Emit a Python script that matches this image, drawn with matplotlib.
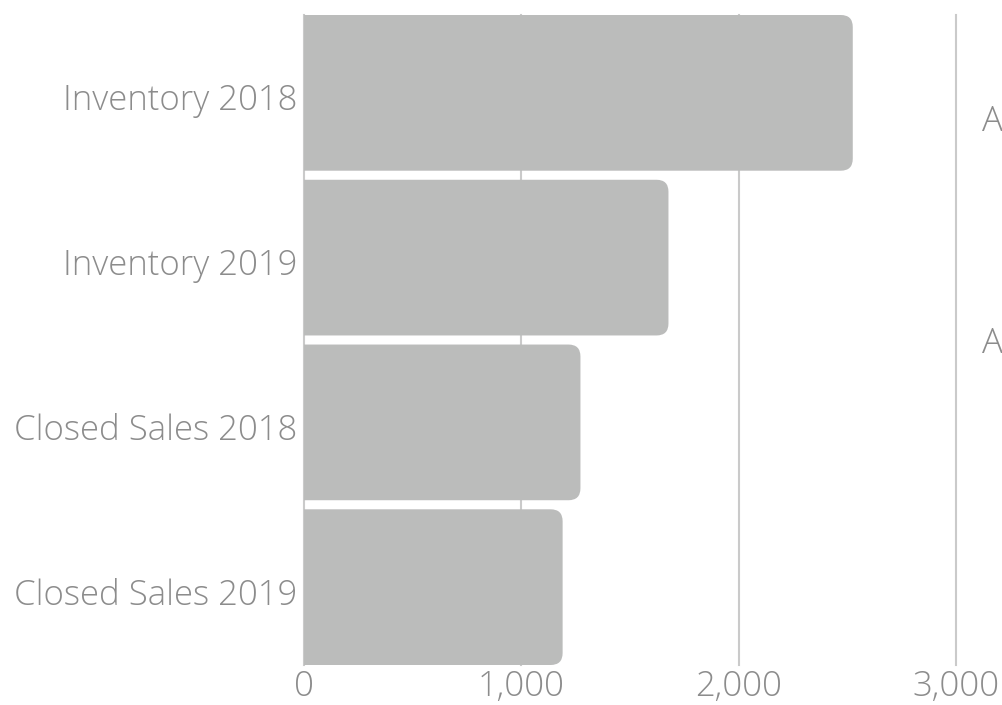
import matplotlib.pyplot as plt
from matplotlib.patches import FancyBboxPatch
from matplotlib.ticker import FuncFormatter
from matplotlib.transforms import ScaledTranslation

categorias = ["Inventory 2018", "Inventory 2019", "Closed Sales 2018", "Closed Sales 2019"]
valores = [2525, 1677, 1272, 1190]
ticks_x = [0, 1000, 2000, 3000]
rotulos_extra = ["A", "A"]

cor_barra = "#bbbcbb"
cor_texto = "#8c8c8c"
cor_grade = "#cacaca"

plt.rcParams['font.family'] = ['Open Sans', 'DejaVu Sans']

fig = plt.figure(figsize=(10.03, 7.05), dpi=100)
ax = fig.add_axes([304 / 1003, 40 / 705, 652 / 1003, 650 / 705])

h = 0.945
pos = list(range(len(categorias)))
barras = ax.barh(pos, valores, height=h, color=cor_barra)
ax.set_xlim(0, 3000)
ax.set_ylim(len(categorias) - 1 + h / 2, -h / 2)

# cantos arredondados so do lado direito (o lado esquerdo fica cortado pelo eixo)
px_x = ax.bbox.width / 3000
px_y = ax.bbox.height / (len(categorias) - 1 + h)
raio_px = 12
raio_x = raio_px / px_x
asp = (raio_px / px_y) / raio_x
for b in barras:
    x0, y0 = b.get_x(), b.get_y()
    w, hh = b.get_width(), b.get_height()
    p = FancyBboxPatch((x0 - 2 * raio_x, y0), w + 2 * raio_x, hh,
                       boxstyle=f"round,pad=0,rounding_size={raio_x}",
                       mutation_aspect=asp, facecolor=cor_barra, edgecolor='none',
                       zorder=2)
    p.set_clip_path(ax.patch)
    ax.add_patch(p)
    b.remove()

ax.set_xticks(ticks_x)
ax.xaxis.set_major_formatter(FuncFormatter(lambda v, _: f"{int(v):,}"))
ax.set_yticks(pos)
ax.set_yticklabels(categorias)
ax.grid(axis='x', color=cor_grade, linewidth=1.5)
for l in ax.get_xgridlines():
    l.set_clip_on(False)
ax.set_axisbelow(True)
for s in ax.spines.values():
    s.set_visible(False)
ax.tick_params(length=0, labelsize=25, labelcolor=cor_texto)
ax.tick_params(axis='y', pad=5)
ax.tick_params(axis='x', pad=3)
for t in ax.get_xticklabels() + ax.get_yticklabels():
    t.set_fontweight('light')
# rotulos do eixo y um pouco abaixo do centro da barra
desloc = ScaledTranslation(0, -3 / 72, fig.dpi_scale_trans)
for t in ax.get_yticklabels():
    t.set_verticalalignment('center_baseline')
    t.set_transform(t.get_transform() + desloc)

fig.text(982 / 1003, 1 - 122 / 705, rotulos_extra[0], fontsize=25, color=cor_texto,
         fontweight='light', va='center')
fig.text(982 / 1003, 1 - 344 / 705, rotulos_extra[1], fontsize=25, color=cor_texto,
         fontweight='light', va='center')

fig.savefig("out.png", dpi=100)
